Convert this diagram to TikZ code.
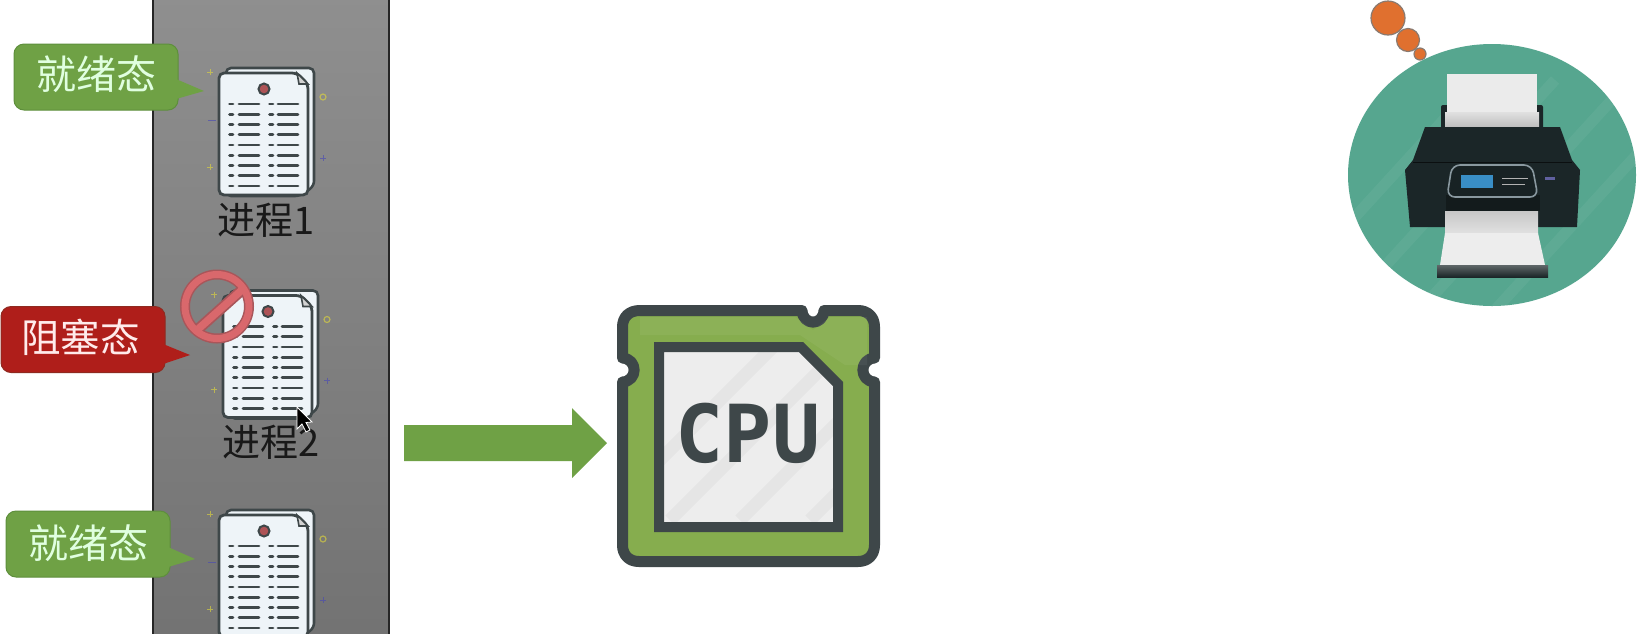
\documentclass[tikz,border=0pt]{standalone}
\usepackage{fontspec}
\newfontfamily\cjk{Noto Sans CJK SC}
\newfontfamily\monob{DejaVu Sans Mono Bold}
\usetikzlibrary{calc}
\definecolor{inkdark}{HTML}{3E4749}
\definecolor{sheet}{HTML}{EEF4F8}
\definecolor{callgreenc}{HTML}{6FA145}
\definecolor{callgreenb}{HTML}{5E8F3C}
\definecolor{callredc}{HTML}{AF1E1A}
\definecolor{callredb}{HTML}{8F2A20}
\definecolor{cpugreen}{HTML}{86AD4E}
\definecolor{teal}{HTML}{56A68F}
\definecolor{printerdark}{HTML}{1B2628}
\definecolor{ringred}{HTML}{D9686C}
\definecolor{ringedge}{HTML}{A8565A}
\definecolor{bubble}{HTML}{E0702F}
\definecolor{bubbleedge}{HTML}{8A7A70}
\newcommand{\liftT}[2]{\raisebox{#1}[\height][\depth]{#2}}
\tikzset{
  x=1pt,y=-1pt,
  callbase/.style={rectangle,rounded corners=10pt,minimum width=164pt,minimum height=66pt,inner sep=0pt,line width=1pt},
  callgreen/.style={callbase,fill=callgreenc,draw=callgreenb,text=green!12!white,font=\cjk\fontsize{40}{40}\selectfont},
  callred/.style={callbase,fill=callredc,draw=callredb,text=red!8!white,font=\cjk\fontsize{39.5}{40}\selectfont},
  proclabel/.style={inner sep=0pt,text=black!90,font=\cjk\fontsize{38}{38}\selectfont},
  docline/.style={draw=inkdark,line width=2.9pt,line cap=round},
  sparkle/.style={line width=.8pt,opacity=.6},
  stripe/.style={line width=13pt,draw=black,opacity=.03},
}
\newcommand{\docicon}[2]{%
  \begin{scope}[shift={(#1,#2)}]
    \draw[inkdark,line width=2.6pt,rounded corners=5pt,fill=sheet] (226,68) -- (314,68) -- (314,186) -- (300,196) -- (226,196) -- cycle;
    \draw[inkdark,line width=2.8pt,rounded corners=5pt,fill=sheet] (219,73) -- (297,73) -- (308,84) -- (308,195) -- (219,195) -- cycle;
    \draw[inkdark,line width=1.6pt,fill=gray!35] (297,73) -- (299,84) -- (308,84) -- cycle;
    \draw[inkdark,line width=2pt,fill=ringred!80!black] (264,89) circle (5.5pt);
    \foreach \k in {0,...,8}{
      \pgfmathsetmacro{\yy}{104+10.25*\k}
      \draw[docline] (229.5,\yy) -- (233,\yy);
      \draw[docline] (239,\yy) -- (259,\yy);
      \draw[docline] (269.5,\yy) -- (273,\yy);
      \draw[docline] (278,\yy) -- (298,\yy);
    }
    \draw[sparkle,yellow!75!gray] (210,69) -- (210,75) (207,72) -- (213,72);
    \draw[sparkle,yellow!75!gray] (210,164) -- (210,170) (207,167) -- (213,167);
    \draw[sparkle,yellow!75!gray,line width=1.2pt] (323,97) circle (3pt);
    \draw[sparkle,blue!45!gray] (323,155) -- (323,161) (320,158) -- (326,158);
    \draw[sparkle,blue!45!gray] (208,120) -- (216,120);
  \end{scope}}
\begin{document}
\begin{tikzpicture}
\useasboundingbox (0,0) rectangle (1641,633);
\clip (0,0) rectangle (1641,633);
\fill[white] (0,0) rectangle (1641,633);
% process panel
\shade[top color=black!44,bottom color=black!55] (153,-2) rectangle (389,635);
\draw[black!85,line width=1.5pt] (153,-2) -- (153,635) (389,-2) -- (389,635);
% documents
\docicon{0}{0}
\docicon{4}{222.5}
\docicon{0}{442}
% process labels
\node[proclabel] (p1) at (266.5,220) {进程1};
\node[proclabel] (p2) at (271,442) {进程2};
% forbidden sign
\draw[ringedge,line width=10pt] (217,306.5) circle (32pt);
\draw[ringedge,line width=11pt] (196,331) -- (243,289);
\draw[ringred,line width=7pt] (217,306.5) circle (32pt);
\draw[ringred,line width=7.5pt] (196,331) -- (243,289);
% cursor
\draw[white,line width=.8pt,fill=black] (297,407) -- (297,429) -- (302,424) -- (306,432) -- (310,430) -- (306,422.5) -- (312,422) -- cycle;
% callouts
\node[callgreen] (ready1) at (96,77) {\liftT{2.5pt}{就绪态}};
\fill[callgreenc] (176,79) -- (204,91) -- (176,99) -- cycle;
\node[callred] (blocked) at (83,339.5) {\liftT{2.5pt}{\hspace*{-5pt}阻塞态}};
\fill[callredc] (163,344) -- (190,355) -- (163,364) -- cycle;
\node[callgreen] (ready2) at (88,544) {\liftT{1pt}{就绪态}};
\fill[callgreenc] (168,547) -- (195,559) -- (168,567) -- cycle;
% block arrow
\fill[callgreenc] (404,425) -- (572,425) -- (572,408) -- (607,443) -- (572,478) -- (572,461) -- (404,461) -- cycle;
% CPU
\draw[inkdark,line width=11pt,fill=cpugreen,line join=round]
  (640,310.5) -- (802,310.5) .. controls (803,326) and (823,326) .. (824,310.5)
  -- (858,310.5) .. controls (868,310.5) and (874.5,317) .. (874.5,327)
  -- (874.5,358) .. controls (859,359) and (859,381) .. (874.5,382)
  -- (874.5,545) .. controls (874.5,555) and (868,561.5) .. (858,561.5)
  -- (639,561.5) .. controls (629,561.5) and (622.5,555) .. (622.5,545)
  -- (622.5,382) .. controls (638,381) and (638,359) .. (622.5,358)
  -- (622.5,327) .. controls (622.5,317) and (629,310.5) .. (640,310.5) -- cycle;
\fill[white,opacity=.05] (640,317) -- (795,317) -- (813,330) -- (830,317) -- (867,317) -- (867,365) -- (845,365) -- (800,335) -- (640,335) -- cycle;
\fill[white!93!black] (659,347) -- (801,347) -- (838,384) -- (838,527) -- (659,527) -- cycle;
\begin{scope}
  \clip (659,347) -- (801,347) -- (838,384) -- (838,527) -- (659,527) -- cycle;
  \foreach \s in {0,70,140,210,280}{
    \draw[stripe] (600+\s,520) -- (780+\s,340);
  }
\end{scope}
\draw[inkdark,line width=10pt,line join=miter] (659,347) -- (801,347) -- (838,384) -- (838,527) -- (659,527) -- cycle;
\node[inner sep=0pt,text=inkdark,font=\monob\fontsize{80}{80}\selectfont] (cpu) at (748,433.5) {CPU};
% thought bubbles
\foreach \cx/\cy/\r/\nm in {1388/18/17/b1,1408/40/11.5/b2,1420/54/6/b3}{
  \draw[bubbleedge,line width=1.2pt,fill=bubble] (\cx,\cy) circle (\r pt);
}
% printer
\fill[teal] (1492,175) ellipse (144pt and 131pt);
\begin{scope}
  \clip (1492,175) ellipse (144pt and 131pt);
  \foreach \s in {0,75,150,225,300}{
    \draw[line width=11pt,draw=white,opacity=.05] (1270+\s,310) -- (1480+\s,80);
  }
\end{scope}
\fill[printerdark,rounded corners=2pt] (1441,105) rectangle (1543,132);
\fill[white!92!black] (1447,74) rectangle (1537,112);
\shade[top color=white!88!black,bottom color=white!70!black] (1445,112) rectangle (1539,132);
\fill[printerdark] (1425,127) -- (1560,127) -- (1572,160) -- (1580,170) -- (1577,227) -- (1410,227) -- (1405,170) -- (1413,160) -- cycle;
\draw[black!60!printerdark,line width=1pt] (1413,162) -- (1572,162);
\fill[black!30!printerdark] (1446,195) rectangle (1540,211);
\draw[gray!85!cyan,line width=1.6pt,rounded corners=8pt,fill=printerdark!90!black] (1447,197) -- (1538,197) -- (1532,165) -- (1452,165) -- cycle;
\fill[blue!40!cyan!55!gray] (1461,175) rectangle (1493,188);
\draw[gray!60,line width=.8pt] (1502,178) -- (1528,178) (1502,184) -- (1525,184);
\fill[blue!25!gray] (1545,177) rectangle (1555,180);
\shade[top color=white!78!black,bottom color=white!88!black] (1445,211) rectangle (1538,233);
\draw[black!50,line width=.7pt] (1445,233) -- (1538,233);
\fill[white!93!black] (1445,233) -- (1538,233) -- (1545,265) -- (1440,265) -- cycle;
\shade[top color=printerdark!70,bottom color=printerdark] (1437,265) rectangle (1548,277);
\end{tikzpicture}
\end{document}
